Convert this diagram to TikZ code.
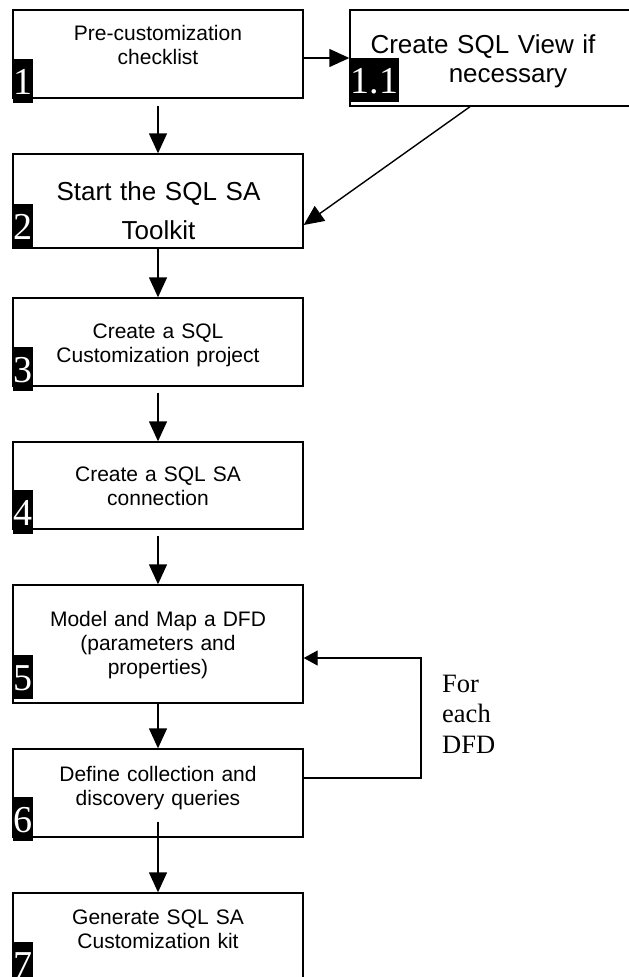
\documentclass[tikz,border=0pt]{standalone}
\usepackage{fontspec}
\setmainfont{Liberation Serif}
\newfontfamily\arialf{Liberation Sans}
\usetikzlibrary{arrows.meta,calc}
\tikzset{
  box/.style={draw=black, line width=1.4pt, fill=white, rectangle, inner sep=0pt, minimum width=290pt},
  lblsmall/.style={text width=290pt, align=center, inner sep=0pt, anchor=base, font={\arialf\fontsize{21}{24}\selectfont}},
  lblbig/.style={text width=290pt, align=center, inner sep=0pt, anchor=base, font={\arialf\fontsize{26}{39}\selectfont}},
  badge/.style={fill=black, text=white, inner sep=0pt, inner xsep=0.5pt, anchor=south west, text height=36pt, text depth=8pt, font={\fontsize{38}{44}\selectfont}},
  arr/.style={line width=1.4pt, -{Triangle[length=20pt,width=18pt]}},
  arrsmall/.style={line width=1.4pt, -{Triangle[length=14pt,width=15pt]}},
}
\begin{document}
\begin{tikzpicture}[x=1pt,y=-1pt]
\clip (0,0) rectangle (629,977);
\fill[white] (0,0) rectangle (629,977);

% boxes
\node[box, minimum height=88pt] (b1) at (158,54) {};
\node[box, minimum height=96pt] (b11) at (495,58) {};
\node[box, minimum height=94pt] (b2) at (158,201) {};
\node[box, minimum height=88pt] (b3) at (158,342) {};
\node[box, minimum height=87pt] (b4) at (158,485.5) {};
\node[box, minimum height=118pt] (b5) at (158,644) {};
\node[box, minimum height=88pt] (b6) at (158,793) {};
\node[box, minimum height=97pt] (b7) at (158,941.5) {};

% labels
\node[lblsmall] (t1) at (158,40) {Pre-customization\\checklist};
\node[text width=260pt, align=center, inner sep=0pt, anchor=base, font={\arialf\fontsize{26}{29.5}\selectfont}] (t11) at (483,53) {Create SQL View if\\\hspace*{50pt}necessary};
\node[lblbig] (t2) at (158.5,200) {Start the SQL SA\\Toolkit};
\node[lblsmall] (t3) at (158,338) {Create a SQL\\Customization project};
\node[lblsmall] (t4) at (158,481) {Create a SQL SA\\connection};
\node[lblsmall] (t5) at (158,626) {Model and Map a DFD\\(parameters and\\properties)};
\node[lblsmall] (t6) at (158,781) {Define collection and\\discovery queries};
\node[lblsmall] (t7) at (158,924) {Generate SQL SA\\Customization kit};
\node[text width=90pt, align=left, inner sep=0pt, anchor=base west, font={\fontsize{26.5}{30.5}\selectfont}] (fe) at (442,692) {For\\each\\DFD};

% badges
\node[badge] (n1) at (13,103) {1};
\node[badge] (n11) at (350,102) {1.1};
\node[badge] (n2) at (13,248) {2};
\node[badge] (n3) at (13,391) {3};
\node[badge] (n4) at (13,534) {4};
\node[badge] (n5) at (13,699) {5};
\node[badge] (n6) at (13,841) {6};
\node[badge] (n7) at (13,986) {7};

% connectors
\draw[arr] (b1.east |- b11.west) -- (b11.west);
\draw[arr] ([yshift=-7pt]b1.south) -- (b1.south |- b2.north);
\draw[arr] ([xshift=-25pt]b11.south) -- ([yshift=-24pt]b2.east);
\draw[arr] (b2.south) -- (b3.north);
\draw[arr] ([yshift=-6pt]b3.south) -- (b4.north);
\draw[arr] ([yshift=-6pt]b4.south) -- (b5.north);
\draw[arr] (b5.south) -- (b6.north);
\draw[arr] ([yshift=16pt]b6.south) -- (b7.north);

\coordinate (loopx) at (421,0);
\coordinate (f1) at ([yshift=15pt]b6.east);
\coordinate (f2) at ([yshift=-14pt]b5.east);
\draw[arrsmall] (f1) -- (f1 -| loopx) -- (f2 -| loopx) -- (f2);
\end{tikzpicture}
\end{document}
